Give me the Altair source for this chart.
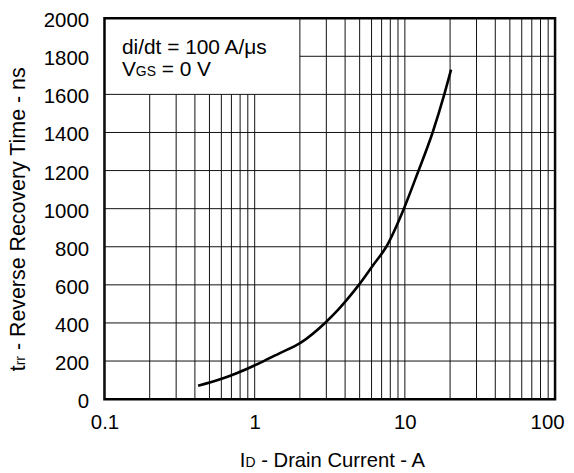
import altair as alt
import pandas as pd

# Curve data
current = [0.42, 0.61, 0.78, 1.15, 1.44, 2.04, 2.94, 3.6, 4.09, 4.94, 6.14, 7.52, 9.85, 12.2, 15.3, 18.3, 20.3]
trr = [70, 108, 140, 200, 238, 298, 400, 470, 520, 600, 703, 800, 1000, 1190, 1400, 1600, 1730]

# Grid / tick values
x_grid = [0.1, 0.2, 0.3, 0.4, 0.5, 0.6, 0.7, 0.8, 0.9,
          1, 2, 3, 4, 5, 6, 7, 8, 9,
          10, 20, 30, 40, 50, 60, 70, 80, 90, 100]
y_grid = [200, 400, 600, 800, 1000, 1200, 1400, 1600, 1800]
x_labels = [0.1, 1, 10, 100]
y_labels = [0, 200, 400, 600, 800, 1000, 1200, 1400, 1600, 1800, 2000]

# Legend box extent (in data units)
box_x_end = 2
box_y_start = 1600

FONT = "Liberation Sans"

xs = alt.Scale(type="log", domain=[0.1, 100], nice=False)
ys = alt.Scale(domain=[0, 2000], nice=False)

x_axis = alt.Axis(values=x_labels, format="~g", grid=False, domain=False, ticks=False,
                  labelFont=FONT, labelFontSize=20.5, labelColor="black", labelPadding=14,
                  labelFlush=False, labelBound=False,
                  labelOffset={"condition": {"test": "datum.value >= 50", "value": -8}, "value": 0})
y_axis = alt.Axis(values=y_labels, format="d", grid=False, domain=False, ticks=False,
                  labelFont=FONT, labelFontSize=20.5, labelColor="black", labelPadding=16,
                  labelFlush=False, labelOffset=2.5)

vgrid = pd.DataFrame({
    "x": x_grid,
    "y": [0] * len(x_grid),
    "y2": [box_y_start if v < box_x_end else 2000 for v in x_grid],
})
hgrid = pd.DataFrame({
    "y": y_grid,
    "x": [box_x_end if v > box_y_start else 0.1 for v in y_grid],
    "x2": [100] * len(y_grid),
})
curve = pd.DataFrame({"x": current, "y": trr})

v_rules = alt.Chart(vgrid).mark_rule(color="#111", strokeWidth=1).encode(
    x=alt.X("x:Q", scale=xs, axis=x_axis, title=None),
    y=alt.Y("y:Q", scale=ys, axis=y_axis, title=None),
    y2="y2:Q",
)
h_rules = alt.Chart(hgrid).mark_rule(color="#111", strokeWidth=1).encode(
    y=alt.Y("y:Q", scale=ys, axis=y_axis, title=None),
    x=alt.X("x:Q", scale=xs, axis=x_axis, title=None),
    x2="x2:Q",
)

line = alt.Chart(curve).mark_line(color="black", strokeWidth=2.6, interpolate="monotone").encode(
    x=alt.X("x:Q", scale=xs, axis=x_axis, title=None),
    y=alt.Y("y:Q", scale=ys, axis=y_axis, title=None),
)

one = pd.DataFrame({"a": [0]})


def txt(text, x, y, size=20, angle=0):
    return alt.Chart(one).mark_text(
        text=text, font=FONT, fontSize=size, color="black",
        align="left", baseline="alphabetic", angle=angle,
    ).encode(x=alt.value(x), y=alt.value(y))


texts = [
    # legend box
    txt("di/dt = 100 A/\u03bcs", 17.5, 36, size=21),
    txt("V", 17.5, 58, size=21),
    txt("GS", 31.5, 58, size=14),
    txt("= 0 V", 57.5, 58, size=21),
    # x title
    txt("I", 136, 451, size=20.3),
    txt("D", 141.8, 451, size=14),
    txt("- Drain Current - A", 157.6, 451, size=20.3),
    # y title (rotated)
    txt("t", -80, 355, size=21.5, angle=270),
    txt("rr", -80, 349, size=14, angle=270),
    txt("- Reverse Recovery Time - ns", -80, 333.7, size=21.5, angle=270),
]

chart = alt.layer(v_rules, h_rules, line, *texts).properties(
    width=453, height=383,
    padding={"left": 97, "top": 9, "right": 11, "bottom": 70},
    autosize=alt.AutoSizeParams(type="none"),
).configure_view(stroke="black", strokeWidth=2.5)

chart.save("out.html", embed_options={"renderer": "svg", "actions": False})
